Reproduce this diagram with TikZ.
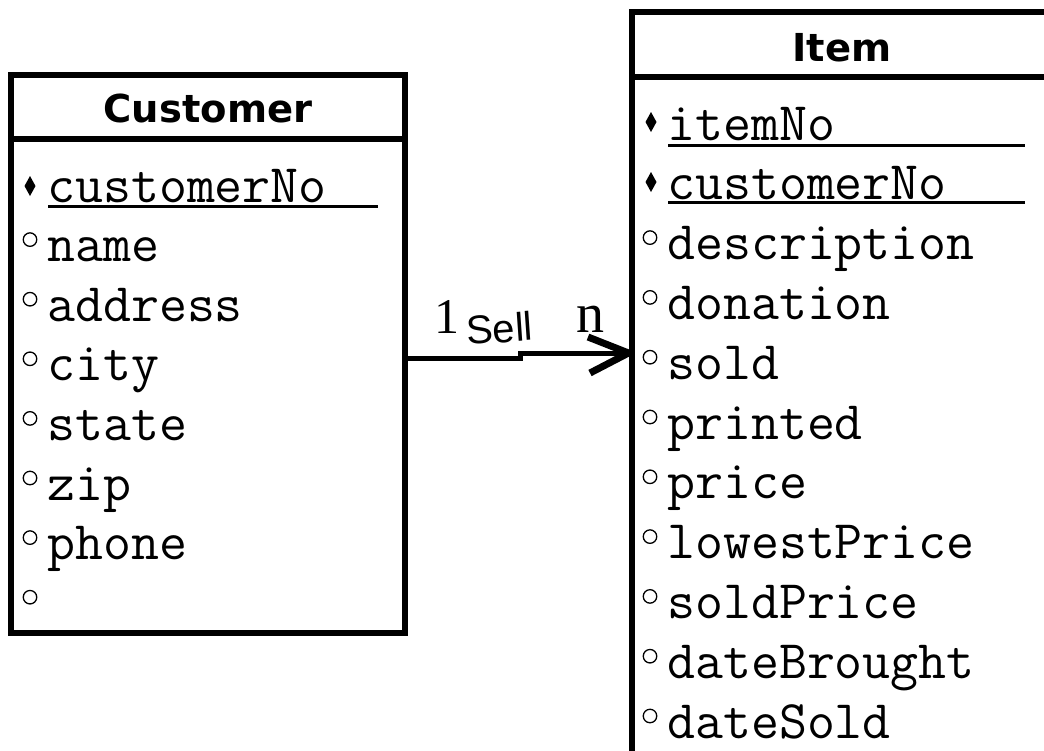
\documentclass[tikz,border=0pt]{standalone}
\usepackage{fontspec}
\newfontfamily\headfont{DejaVu Sans}
\newfontfamily\cardfont{Liberation Serif}
\newfontfamily\notefont{Liberation Sans}
\begin{document}
\begin{tikzpicture}[x=1pt,y=-1pt,
  entitybox/.style={draw, rectangle, line width=6pt, inner sep=0pt, outer sep=0pt},
  divider/.style={line width=6pt},
  headtext/.style={anchor=base, inner sep=0pt, font=\headfont\bfseries\fontsize{38.5}{40}\selectfont},
  attr/.style={anchor=base west, inner sep=0pt, font=\ttfamily\fontsize{54.3}{56}\selectfont},
  keyline/.style={line width=3pt},
  optmark/.style={draw, circle, line width=1.3pt, minimum size=13.5pt, inner sep=0pt},
  keymark/.style={fill=black},
  relation/.style={line width=5pt},
  tiplines/.style={line width=7pt, line join=round},
  cardtext/.style={anchor=base west, inner sep=0pt, font=\cardfont\fontsize{50}{52}\selectfont},
  notetext/.style={anchor=base west, inner sep=0pt, font=\notefont\fontsize{40}{42}\selectfont}
]
\clip (0,0) rectangle (1044,750);
\fill[white] (0,0) rectangle (1044,750);

% entity frames
\node[entitybox, minimum width=393.5pt, minimum height=558.5pt] (cust) at (207.75,353.75) {};
\node[entitybox, minimum width=421.5pt, minimum height=778.5pt] (item) at (842.25,400.75) {};

% header dividers
\coordinate (cdiv) at (0,139);
\coordinate (idiv) at (0,76.5);
\draw[divider] (cust.west |- cdiv) -- (cust.east |- cdiv);
\draw[divider] (item.west |- idiv) -- (item.east |- idiv);

% headers
\node[headtext] (custhead) at (208,122) {Customer};
\node[headtext] (itemhead) at (842,61) {Item};

% Customer attributes
\fill[keymark] (30,176) -- (35.5,186) -- (30,196) -- (24.5,186) -- cycle;
\node[attr] (c0) at (47,202) {customerNo};
\draw[keyline] (48,206) -- (378,206);
\foreach \t [count=\k] in {name,address,city,state,zip,phone,{}} {
  \node[optmark] (co\k) at (30,{202+59.6*\k-22}) {};
  \node[attr] (c\k) at (47,{202+59.6*\k}) {\t};
}

% Item attributes
\foreach \y in {122,182} {
  \fill[keymark] (651,\y-10) -- (656.5,\y) -- (651,\y+10) -- (645.5,\y) -- cycle;
}
\node[attr] (i0) at (667,140) {itemNo};
\draw[keyline] (668,145) -- (1025,145);
\node[attr] (i1) at (667,199.8) {customerNo};
\draw[keyline] (668,202) -- (1025,202);
\foreach \t [count=\k from 2] in {description,donation,sold,printed,price,lowestPrice,soldPrice,dateBrought,dateSold} {
  \node[optmark] (io\k) at (650,{140+59.8*\k-22}) {};
  \node[attr] (i\k) at (667,{140+59.8*\k}) {\t};
}

% relationship connector
\coordinate (rlo) at (0,358);
\coordinate (rhi) at (0,353);
\coordinate (jog) at (520,0);
\coordinate (tip) at (item.west |- rhi);
\draw[relation] (cust.east |- rlo) -- (jog |- rlo) -- (jog |- rhi) -- (tip);
\draw[tiplines] (588,337) -- ([xshift=-3pt]tip) -- (590,373);

% labels
\node[cardtext] (one) at (434,333) {1};
\node[notetext, rotate=4] (sell) at (467,345) {Sell};
\node[cardtext, font=\cardfont\fontsize{56}{58}\selectfont] (many) at (576,332) {n};
\end{tikzpicture}
\end{document}
